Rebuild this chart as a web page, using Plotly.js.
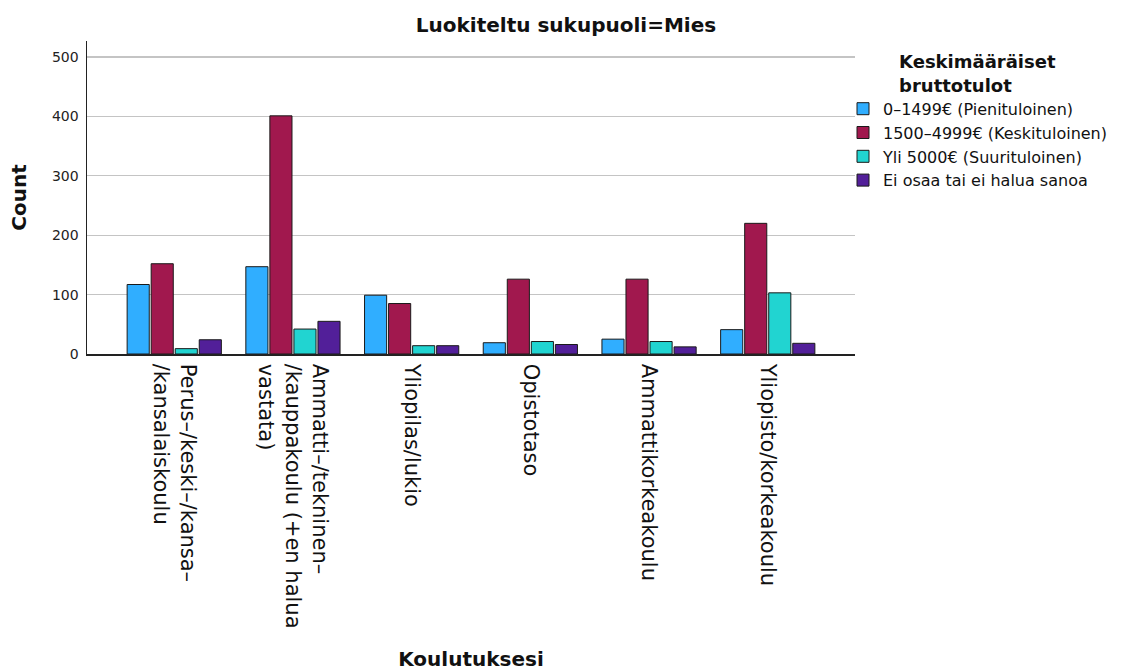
<!DOCTYPE html>
<html>
<head>
<meta charset="utf-8">
<script src="https://cdn.plot.ly/plotly-3.0.1.min.js"></script>
<style>html,body{margin:0;padding:0;background:#fff;}#chart{width:1122px;height:671px;}</style>
</head>
<body>
<div id="chart"></div>
<script>
const categories = [
  "Perus–/keski–/kansa–<br>/kansalaiskoulu",
  "Ammatti–/tekninen–<br>/kauppakoulu (+en halua<br>vastata)",
  "Yliopilas/lukio",
  "Opistotaso",
  "Ammattikorkeakoulu",
  "Yliopisto/korkeakoulu"
];
const seriesNames = [
  "0–1499€ (Pienituloinen)",
  "1500–4999€ (Keskituloinen)",
  "Yli 5000€ (Suurituloinen)",
  "Ei osaa tai ei halua sanoa"
];
const low = [117, 147, 99, 19, 25, 41];
const middle = [152, 401, 85, 126, 126, 220];
const high = [9, 42, 14, 21, 21, 103];
const unknown = [24, 55, 14, 16, 12, 18];
const colors = ["#30aeff", "#a1184e", "#21d4d1", "#521f99"];

const values = [low, middle, high, unknown];
const traces = values.map((v, i) => ({
  type: "bar",
  name: seriesNames[i],
  x: categories,
  y: v,
  marker: {color: colors[i], line: {color: "#1a1a1a", width: 1}},
  hoverinfo: "y"
}));

const font = "DejaVu Sans, Verdana, sans-serif";
const plotW = 1122 - 87 - 267;
const layout = {
  width: 1122, height: 671,
  margin: {l: 87, r: 267, t: 41, b: 317, autoexpand: false},
  paper_bgcolor: "#fff", plot_bgcolor: "#fff",
  font: {family: font, color: "#111"},
  barmode: "group", bargap: 0.19, bargroupgap: 0.08,
  title: {text: "<b>Luokiteltu sukupuoli=Mies</b>", x: 566/1122, xref: "container", xanchor: "center", y: 1 - 25/671, yref: "container", yanchor: "middle", font: {size: 20, family: font, color: "#111"}},
  xaxis: {
    type: "category",
    range: [-0.735, 5.735],
    tickangle: 90,
    tickfont: {size: 21, family: font, color: "#111"},
    ticks: "", ticklabelstandoff: 4,
    showline: true, linecolor: "#222", linewidth: 1.5,
    showgrid: false, zeroline: false,
    automargin: false,
    title: {text: "<b>Koulutuksesi</b>", font: {size: 20, family: font, color: "#111"}, standoff: 30}
  },
  yaxis: {
    range: [0, 527], dtick: 100, tick0: 0,
    tickfont: {size: 14, family: font, color: "#222"},
    ticks: "", ticklabelstandoff: 4,
    showline: true, linecolor: "#222", linewidth: 1.5,
    showgrid: true, gridcolor: "#c4c4c4", gridwidth: 1.3,
    zeroline: false, automargin: false,
    title: {text: "<b>Count</b>", font: {size: 20, family: font, color: "#111"}, standoff: 20}
  },
  legend: {
    x: -12/plotW + 1.0, xanchor: "left", y: 1 - 4/313, yanchor: "top",
    font: {size: 16, family: font, color: "#111"},
    title: {text: "<b>Keskimääräiset<br>bruttotulot</b>", side: "top center", font: {size: 18, family: font, color: "#111"}},
    tracegroupgap: 0, itemwidth: 30,
    bgcolor: "rgba(0,0,0,0)"
  },
  showlegend: true
};
Plotly.newPlot("chart", traces, layout, {displayModeBar: false, staticPlot: true});
</script>
</body>
</html>
